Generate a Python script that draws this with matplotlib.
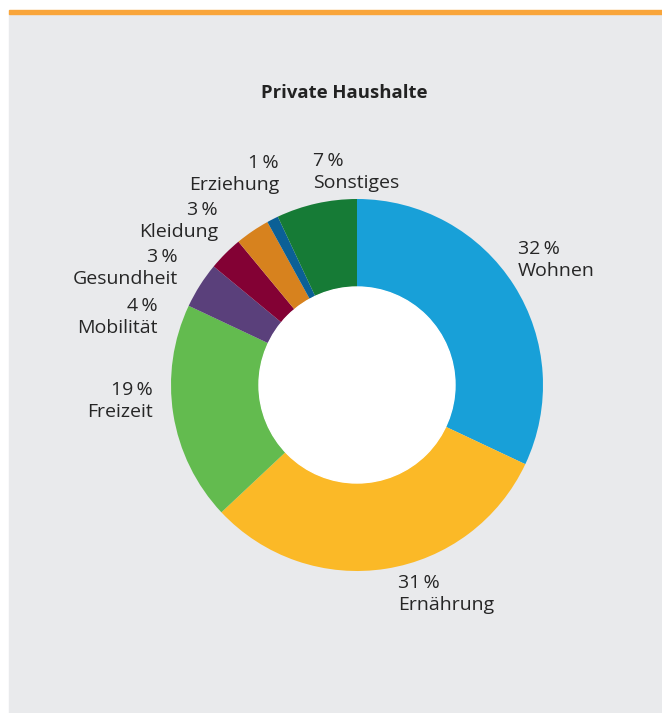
import matplotlib
matplotlib.use("Agg")
import matplotlib.pyplot as plt
from matplotlib.patches import Rectangle, Circle

plt.rcParams['font.family'] = ['Open Sans', 'DejaVu Sans']

categories = ["Wohnen", "Ernährung", "Freizeit", "Mobilität", "Gesundheit",
              "Kleidung", "Erziehung", "Sonstiges"]
shares = [32, 31, 19, 4, 3, 3, 1, 7]
colors = ["#18a0d8", "#fbb927", "#63bb4f", "#5a407b", "#830134",
          "#d7821e", "#0b6096", "#167b36"]

W, H = 662, 713
fig = plt.figure(figsize=(W / 100, H / 100), dpi=100)
ax = fig.add_axes([0, 0, 1, 1])
ax.set_xlim(0, W)
ax.set_ylim(0, H)
ax.set_aspect("equal")
ax.axis("off")

def py(y):
    # pixel row from top -> data y
    return H - y

# panel background and orange top rule
ax.add_patch(Rectangle((9, 0), W - 9, py(13), color="#e9eaec", zorder=0))
ax.add_patch(Rectangle((9, py(13.5)), W - 9, 3.5, color="#f9a53a", zorder=1))

cx, cy, r_out, r_in = 357, py(385), 186, 98
ax.pie(shares, colors=colors, startangle=90, counterclock=False,
       center=(cx, cy), radius=r_out,
       wedgeprops=dict(width=r_out - r_in, linewidth=0.3, edgecolor="none"))
ax.add_patch(Circle((cx, cy), r_in, color="white", zorder=5))
ax.set_xlim(0, W)
ax.set_ylim(0, H)

ax.text(344, py(93), "Private Haushalte", ha="center", va="center",
        fontsize=13.3, fontweight="bold", color="#222222")

# label anchors: (x, y of first line, alignment)
label_pos = [(518, 249, "left"), (398, 583, "left"), (153, 390, "right"),
             (158, 306, "right"), (178, 257, "right"), (218, 210, "right"),
             (279, 163, "right"), (313, 161, "left")]

for name, val, (x, y, ha) in zip(categories, shares, label_pos):
    ax.text(x, py(y), f"{val}\u2009%", ha=ha, va="center", fontsize=14,
            color="#262626")
    ax.text(x, py(y + 22), name, ha=ha, va="center", fontsize=14,
            color="#262626")

fig.savefig("out.png", dpi=100)
